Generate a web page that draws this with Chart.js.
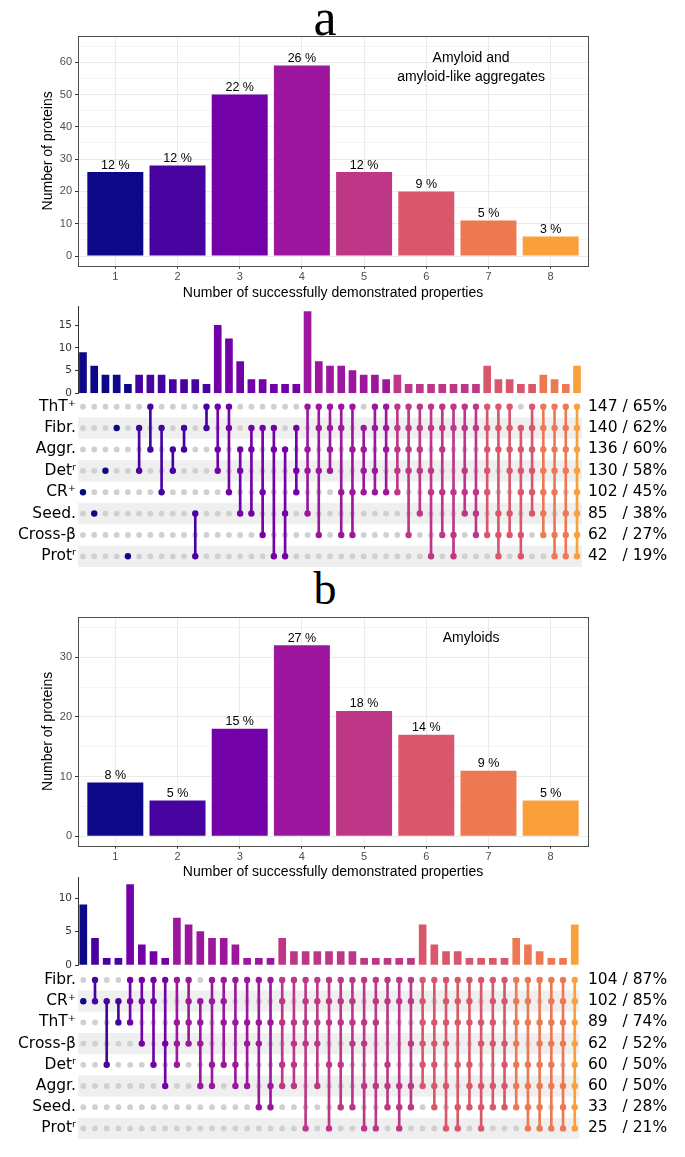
<!DOCTYPE html>
<html>
<head>
<meta charset="utf-8">
<script src="https://cdn.jsdelivr.net/npm/chart.js@4.4.1/dist/chart.umd.min.js"></script>
<style>
  body { margin: 0; background: #fff; }
  #page { position: relative; width: 685px; height: 1157px; overflow: hidden; background: #fff; }
  .cv { position: absolute; left: 0; }
  .letter { position: absolute; left: 275px; width: 100px; text-align: center;
            font-family: "Liberation Serif", "DejaVu Serif", serif; font-size: 46px; line-height: 46px; color: #000; }
</style>
</head>
<body>
<div id="page">
  <div class="letter" style="top:-8px;font-size:52px;line-height:52px">a</div>
  <div class="letter" style="top:566px">b</div>
  <canvas id="distA" class="cv" width="685" height="305" style="top:0"></canvas>
  <canvas id="barsA" class="cv" width="685" height="116" style="top:292px"></canvas>
  <canvas id="matA" class="cv" width="685" height="215" style="top:374px"></canvas>
  <canvas id="distB" class="cv" width="685" height="312" style="top:570px"></canvas>
  <canvas id="barsB" class="cv" width="685" height="118" style="top:862px"></canvas>
  <canvas id="matB" class="cv" width="685" height="214" style="top:947px"></canvas>
</div>
<script>
// ---- data ----
const propCounts = [1, 2, 3, 4, 5, 6, 7, 8];
const proteinsA = [26, 28, 50, 59, 26, 20, 11, 6];
const pctLabelsA = ['12 %', '12 %', '22 %', '26 %', '12 %', '9 %', '5 %', '3 %'];
const proteinsB = [9, 6, 18, 32, 21, 17, 11, 6];
const pctLabelsB = ['8 %', '5 %', '15 %', '27 %', '18 %', '14 %', '9 %', '5 %'];
const yTicksA = [0, 10, 20, 30, 40, 50, 60];
const yTicksB = [0, 10, 20, 30];

// upset a (rows top to bottom)
const setsA = ['ThT⁺', 'Fibr.', 'Aggr.', 'Detʳ', 'CR⁺', 'Seed.', 'Cross-β', 'Protʳ'];
const setSizeA = [147, 140, 136, 130, 102, 85, 62, 42];
const setPctA = [65, 62, 60, 58, 45, 38, 27, 19];
const interSizeA = [9, 6, 4, 4, 2, 4, 4, 4, 3, 3, 3, 2, 15, 12, 7, 3, 3, 2, 2, 2,
  18, 7, 6, 6, 5, 4, 4, 3, 4, 2, 2, 2, 2, 2, 2, 2, 6, 3, 3, 2, 2, 4, 3, 2, 6];
const interSetsA = [
  [4], [5], [3], [1], [7],
  [1, 3], [0, 2], [1, 4], [2, 3], [1, 2], [5, 7], [0, 1],
  [0, 2, 3], [0, 1, 4], [2, 3, 5], [1, 2, 5], [1, 4, 6], [1, 2, 7], [2, 5, 7], [1, 3, 4],
  [0, 2, 3, 5], [0, 1, 3, 6], [0, 1, 2, 3], [0, 1, 4, 6], [0, 2, 4, 6], [1, 2, 3, 4], [0, 1, 3, 4], [0, 1, 2, 4],
  [0, 1, 2, 3, 4], [0, 1, 2, 3, 6], [0, 1, 2, 3, 5], [0, 1, 3, 4, 7], [0, 1, 2, 4, 6], [0, 1, 4, 6, 7], [0, 1, 3, 4, 5], [0, 1, 4, 5, 6],
  [0, 1, 2, 3, 4, 6], [0, 1, 2, 5, 6, 7], [0, 1, 2, 3, 5, 6], [1, 2, 3, 4, 6, 7], [0, 1, 2, 3, 4, 5],
  [0, 1, 2, 3, 4, 5, 6], [0, 1, 2, 3, 4, 6, 7], [0, 1, 2, 3, 5, 6, 7],
  [0, 1, 2, 3, 4, 5, 6, 7]
];

// upset b
const setsB = ['Fibr.', 'CR⁺', 'ThT⁺', 'Cross-β', 'Detʳ', 'Aggr.', 'Seed.', 'Protʳ'];
const setSizeB = [104, 102, 89, 62, 60, 60, 33, 25];
const setPctB = [87, 85, 74, 52, 50, 50, 28, 21];
const interSizeB = [9, 4, 1, 1, 12, 3, 2, 1, 7, 6, 5, 4, 4, 3, 1, 1, 1,
  4, 2, 2, 2, 2, 2, 2, 1, 1, 1, 1, 1, 6, 3, 2, 2, 1, 1, 1, 1, 4, 3, 2, 1, 1, 6];
const interSetsB = [
  [1],
  [0, 1], [1, 4], [1, 2],
  [0, 1, 2], [0, 1, 3], [0, 1, 4], [0, 3, 5],
  [0, 2, 3, 4], [0, 1, 2, 3], [1, 2, 3, 5], [0, 1, 4, 5], [0, 1, 2, 4], [0, 2, 4, 5], [0, 2, 3, 5], [0, 2, 3, 6], [0, 2, 5, 6],
  [0, 1, 2, 4, 5], [0, 2, 3, 4, 5], [0, 1, 2, 3, 7], [0, 1, 2, 3, 5], [0, 1, 2, 4, 7], [0, 1, 2, 4, 6],
  [0, 1, 2, 3, 6], [0, 2, 3, 5, 7], [0, 1, 2, 5, 7], [0, 1, 4, 5, 6], [0, 1, 5, 6, 7], [0, 1, 3, 5, 6],
  [0, 1, 2, 3, 4, 5], [0, 2, 3, 4, 5, 6], [0, 1, 2, 3, 5, 7], [0, 1, 2, 4, 6, 7], [0, 1, 2, 4, 5, 6], [0, 2, 3, 5, 6, 7], [0, 1, 2, 3, 5, 6], [0, 1, 3, 4, 5, 6],
  [0, 1, 2, 3, 4, 5, 6], [0, 1, 2, 4, 5, 6, 7], [0, 2, 3, 4, 5, 6, 7], [0, 1, 2, 3, 4, 5, 7], [0, 1, 2, 3, 5, 6, 7],
  [0, 1, 2, 3, 4, 5, 6, 7]
];

// colour per number of properties (1..8)
const degreeColors = ['#0d0887', '#47039f', '#7301a8', '#9c179e', '#bd3786', '#d8576b', '#ed7953', '#fb9f3a'];

const SANS = '"Liberation Sans", Arial, sans-serif';
const DJV = '"DejaVu Sans", sans-serif';

// ---- distribution bar charts ----
function distChart(id, counts, pctLabels, majorTicks, yMin, yMax, note, noteX, noteY, pad) {
  const minorTicks = [];
  for (let v = 0; v <= yMax; v += 5) minorTicks.push(v);

  const overlay = {
    id: 'overlay',
    afterDatasetsDraw(chart) {
      const { ctx, chartArea: a } = chart;
      const xs = chart.scales.x, ys = chart.scales.y;
      ctx.save();
      ctx.fillStyle = '#000';
      ctx.textAlign = 'center';
      ctx.textBaseline = 'alphabetic';
      ctx.font = '12.5px ' + SANS;
      chart.getDatasetMeta(0).data.forEach((bar, i) => {
        ctx.fillText(pctLabels[i], bar.x, bar.y - 3.5);
      });
      ctx.font = '14px ' + SANS;
      ctx.textBaseline = 'middle';
      note.forEach((line, j) => ctx.fillText(line, xs.getPixelForValue(noteX), ys.getPixelForValue(noteY[j])));
      ctx.strokeStyle = '#4d4d4d';
      ctx.lineWidth = 1;
      ctx.strokeRect(Math.round(a.left) + 0.5, Math.round(a.top) + 0.5,
        Math.round(a.right - a.left), Math.round(a.bottom - a.top));
      ctx.restore();
    }
  };

  new Chart(document.getElementById(id), {
    type: 'bar',
    data: {
      datasets: [{
        data: propCounts.map((c, i) => ({ x: c, y: counts[i] })),
        backgroundColor: degreeColors,
        borderWidth: 0,
        barPercentage: 0.9,
        categoryPercentage: 1
      }]
    },
    options: {
      responsive: false,
      animation: false,
      layout: { padding: { left: 0, right: 97, top: pad.top, bottom: 0 } },
      plugins: { legend: { display: false }, tooltip: { enabled: false } },
      scales: {
        x: {
          type: 'linear', min: 0.4, max: 8.6, offset: false,
          afterBuildTicks: s => { s.ticks = propCounts.map(v => ({ value: v })); },
          afterFit: s => { s.height = pad.xAxis; },
          ticks: { color: '#4d4d4d', font: { size: 11, family: SANS }, padding: 2, autoSkip: false, maxRotation: 0,
                   callback: v => String(v) },
          grid: { offset: false, color: '#ebebeb', lineWidth: 1, tickLength: 3, tickColor: '#333' },
          border: { display: false },
          title: { display: true, text: 'Number of successfully demonstrated properties', color: '#000',
                   font: { size: 14, family: SANS }, padding: { top: 0, bottom: pad.title } }
        },
        y: {
          type: 'linear', min: yMin, max: yMax,
          afterBuildTicks: s => { s.ticks = minorTicks.map(v => ({ value: v })); },
          afterFit: s => { s.width = 78; },
          ticks: { color: '#4d4d4d', font: { size: 11, family: SANS }, padding: 3, autoSkip: false,
                   callback: v => majorTicks.includes(v) ? String(v) : '' },
          grid: {
            color: '#ebebeb',
            lineWidth: c => (c.tick && majorTicks.includes(c.tick.value)) ? 1 : 0.5,
            tickLength: 3,
            tickColor: c => (c.tick && majorTicks.includes(c.tick.value)) ? '#333' : 'rgba(0,0,0,0)'
          },
          border: { display: false },
          title: { display: true, text: 'Number of proteins', color: '#000',
                   font: { size: 14, family: SANS }, padding: { top: 40, bottom: 0 } }
        }
      }
    },
    plugins: [overlay]
  });
}

distChart('distA', proteinsA, pctLabelsA, yTicksA, -3, 68.1,
  ['Amyloid and', 'amyloid-like aggregates'], 6.72, [61.3, 55.4],
  { top: 36, xAxis: 39.3, title: 3.6 });
distChart('distB', proteinsB, pctLabelsB, yTicksB, -1.57, 36.74,
  ['Amyloids'], 6.72, [33.2],
  { top: 47, xAxis: 36.3, title: 1.9 });

// ---- upset intersection bars ----
function upsetBars(id, sizes, members, xMax, yMax, pad) {
  new Chart(document.getElementById(id), {
    type: 'bar',
    data: {
      datasets: [{
        data: sizes.map((v, i) => ({ x: i, y: v })),
        backgroundColor: members.map(m => degreeColors[m.length - 1]),
        borderWidth: 0,
        barThickness: 7
      }]
    },
    options: {
      responsive: false,
      animation: false,
      layout: { padding: { left: 0, right: pad.right, top: pad.top, bottom: pad.bottom } },
      plugins: { legend: { display: false }, tooltip: { enabled: false } },
      scales: {
        x: { type: 'linear', display: false, offset: false, min: pad.xMin, max: xMax },
        y: {
          type: 'linear', min: 0, max: yMax,
          afterBuildTicks: s => { s.ticks = [0, 5, 10, 15].filter(v => v <= yMax).map(v => ({ value: v })); },
          afterFit: s => { s.width = 78; },
          ticks: { color: '#333', font: { size: 10.5, family: DJV }, padding: 3, autoSkip: false },
          grid: { drawOnChartArea: false, tickLength: 3, tickColor: '#333' },
          border: { display: true, color: '#333', width: 1 }
        }
      }
    }
  });
}

upsetBars('barsA', interSizeA, interSetsA, 44.445, 19.1,
  { right: 103, top: 14.7, bottom: 14.7, xMin: -0.445 });
upsetBars('barsB', interSizeB, interSetsB, 42.39, 13.05,
  { right: 105.7, top: 15.6, bottom: 15, xMin: -0.453 });

// ---- upset dot matrix ----
function upsetMatrix(id, rows, sizes, pcts, members, xMin, xMax, pad) {
  const nRows = rows.length;
  const rowIdx = rows.map((r, i) => i);
  const gray = [], lines = [], dots = [];
  members.forEach((m, c) => {
    const col = degreeColors[m.length - 1];
    for (let r = 0; r < nRows; r++) {
      if (m.includes(r)) dots.push({ x: c, y: r, col });
      else gray.push({ x: c, y: r });
    }
    if (m.length > 1) lines.push({ x: c, y: [Math.min(...m), Math.max(...m)], col });
  });
  const rightText = sizes.map((n, i) => n + (n < 100 ? '   ' : ' ') + '/ ' + pcts[i] + '%');

  const stripes = {
    id: 'stripes',
    beforeDatasetsDraw(chart) {
      const { ctx, chartArea: a } = chart;
      const ys = chart.scales.y;
      ctx.save();
      ctx.fillStyle = '#efefef';
      for (let r = 1; r < nRows; r += 2) {
        const y0 = ys.getPixelForValue(r - 0.5), y1 = ys.getPixelForValue(r + 0.5);
        ctx.fillRect(a.left, y0, a.right - a.left, y1 - y0);
      }
      ctx.restore();
    }
  };

  new Chart(document.getElementById(id), {
    type: 'bar',
    data: {
      datasets: [
        { type: 'scatter', data: gray, pointRadius: 2.9, pointBackgroundColor: '#d0d0d0',
          pointBorderWidth: 0, order: 3 },
        { type: 'bar', data: lines, backgroundColor: lines.map(l => l.col), borderWidth: 0,
          barThickness: 2, order: 2 },
        { type: 'scatter', data: dots, pointRadius: 3.2, pointBackgroundColor: dots.map(d => d.col),
          pointBorderWidth: 0, order: 1 }
      ]
    },
    options: {
      responsive: false,
      animation: false,
      layout: { padding: { left: 0, right: 0, top: pad.top, bottom: pad.bottom } },
      plugins: { legend: { display: false }, tooltip: { enabled: false } },
      scales: {
        x: { type: 'linear', display: false, offset: false, min: xMin, max: xMax },
        y: {
          type: 'linear', reverse: true, min: -0.5, max: nRows - 0.5,
          afterBuildTicks: s => { s.ticks = rowIdx.map(v => ({ value: v })); },
          afterFit: s => { s.width = 78; },
          ticks: { color: '#000', font: { size: 15.5, family: DJV }, padding: 2, autoSkip: false,
                   callback: v => rows[v] },
          grid: { display: false, drawTicks: false },
          border: { display: false }
        },
        yR: {
          type: 'linear', position: 'right', reverse: true, min: -0.5, max: nRows - 0.5,
          afterBuildTicks: s => { s.ticks = rowIdx.map(v => ({ value: v })); },
          afterFit: s => { s.width = pad.rightW; },
          ticks: { color: '#000', font: { size: 15.5, family: DJV }, padding: pad.rightPad, autoSkip: false,
                   callback: v => rightText[v] },
          grid: { display: false, drawTicks: false },
          border: { display: false }
        }
      }
    },
    plugins: [stripes]
  });
}

upsetMatrix('matA', setsA, setSizeA, setPctA, interSetsA, -0.445, 44.445,
  { top: 22, bottom: 22, rightW: 103, rightPad: 6 });
upsetMatrix('matB', setsB, setSizeB, setPctB, interSetsB, -0.453, 42.39,
  { top: 22.4, bottom: 22, rightW: 105.7, rightPad: 8.7 });
</script>
</body>
</html>
